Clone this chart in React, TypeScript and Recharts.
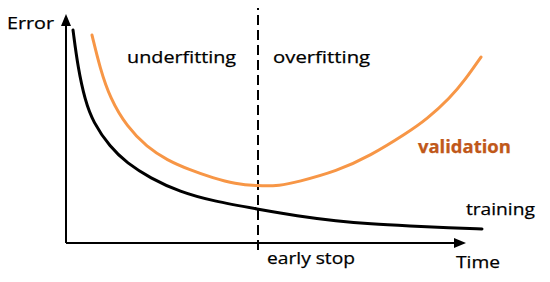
import React from "react";
import { LineChart, Line, XAxis, YAxis, ReferenceLine, ReferenceDot } from "recharts";

// Training error over time
const trainingTime = [1.75, 3, 4.75, 6.75, 11, 15.25, 21, 28.5, 36.75, 48, 57.75, 67.75, 76, 86, 96, 104];
const trainingError = [93.0, 76.4, 62.4, 52.8, 41.9, 34.9, 28.4, 22.3, 18.3, 14.8, 11.8, 9.6, 8.3, 7.4, 6.6, 6.1];

// Validation error over time
const validationTime = [6.5, 8.5, 11, 15.25, 20.25, 25.25, 31, 36.75, 42.25, 48, 53.5, 57.75, 67.75, 76, 85.25, 90.25, 96, 99.75, 103.75];
const validationError = [90.8, 76.4, 63.3, 50.7, 41.9, 36.2, 31.9, 28.4, 25.8, 24.9, 25.0, 26.6, 31.4, 38.0, 48.0, 54.1, 63.3, 71.2, 81.2];

const earlyStop = 48;

const trainingData = trainingTime.map((t, i) => ({ t, e: trainingError[i] }));
const validationData = validationTime.map((t, i) => ({ t, e: validationError[i] }));

const FONT = "'Open Sans', 'Noto Sans', sans-serif";

type Lbl = { text: string; x: number; y: number; w: number; bold?: boolean; color?: string };
const labels: Lbl[] = [
  { text: "Error", x: -8.875, y: 93.4, w: 47 },
  { text: "underfitting", x: 28.9, y: 78.6, w: 109 },
  { text: "overfitting", x: 63.9, y: 78.6, w: 97 },
  { text: "validation", x: 99.6, y: 39.3, w: 93, bold: true, color: "#C0581A" },
  { text: "training", x: 108.6, y: 12.2, w: 69 },
  { text: "early stop", x: 61.25, y: -9.2, w: 88 },
  { text: "Time", x: 103, y: -10.9, w: 44 },
];

const textShape = (l: Lbl) => (p: any) => (
  <text
    x={p.cx}
    y={p.cy}
    textAnchor="middle"
    fontFamily={FONT}
    fontSize={17}
    fontWeight={l.bold ? 700 : 400}
    fill={l.color || "#000"}
    stroke={l.color || "#000"}
    strokeWidth={0.25}
    textLength={l.w}
    lengthAdjust="spacingAndGlyphs"
  >
    {l.text}
  </text>
);

const arrowUp = (p: any) => (
  <path d={`M${p.cx},${p.cy} L${p.cx - 5},${p.cy + 12} L${p.cx + 5},${p.cy + 12} Z`} fill="#000" />
);
const arrowRight = (p: any) => (
  <path d={`M${p.cx},${p.cy} L${p.cx - 12},${p.cy - 5} L${p.cx - 12},${p.cy + 5} Z`} fill="#000" />
);

export default function App() {
  return (
    <div style={{ position: "absolute", left: 0, top: 0, background: "#fff" }}>
      <LineChart
        width={550}
        height={282}
        margin={{ top: 14, right: 64, bottom: 39, left: 66 }}
      >
        <XAxis type="number" dataKey="t" domain={[0, 105]} hide allowDataOverflow />
        <YAxis type="number" dataKey="e" domain={[0, 100]} hide allowDataOverflow />
        {/* axes */}
        <ReferenceLine
          segment={[{ x: 0, y: 0 }, { x: 0, y: 96 }]}
          stroke="#000"
          strokeWidth={2}
          ifOverflow="visible"
        />
        <ReferenceLine
          segment={[{ x: 0, y: 0 }, { x: 98, y: 0 }]}
          stroke="#000"
          strokeWidth={2}
          ifOverflow="visible"
        />
        <ReferenceDot x={0} y={100} r={0} ifOverflow="visible" shape={arrowUp} />
        <ReferenceDot x={100} y={0} r={0} ifOverflow="visible" shape={arrowRight} />
        {/* early stop */}
        <ReferenceLine
          segment={[{ x: earlyStop, y: -3.1 }, { x: earlyStop, y: 102.6 }]}
          stroke="#000"
          strokeWidth={2}
          strokeDasharray="10 5"
          ifOverflow="visible"
        />
        <Line
          data={validationData}
          dataKey="e"
          type="basis"
          stroke="#F79646"
          strokeWidth={3}
          dot={false}
          strokeLinecap="round"
          isAnimationActive={false}
        />
        <Line
          data={trainingData}
          dataKey="e"
          type="basis"
          stroke="#000"
          strokeWidth={3}
          dot={false}
          strokeLinecap="round"
          isAnimationActive={false}
        />
        {labels.map((l) => (
          <ReferenceDot
            key={l.text}
            x={l.x}
            y={l.y}
            r={0}
            ifOverflow="visible"
            shape={textShape(l)}
          />
        ))}
      </LineChart>
    </div>
  );
}
